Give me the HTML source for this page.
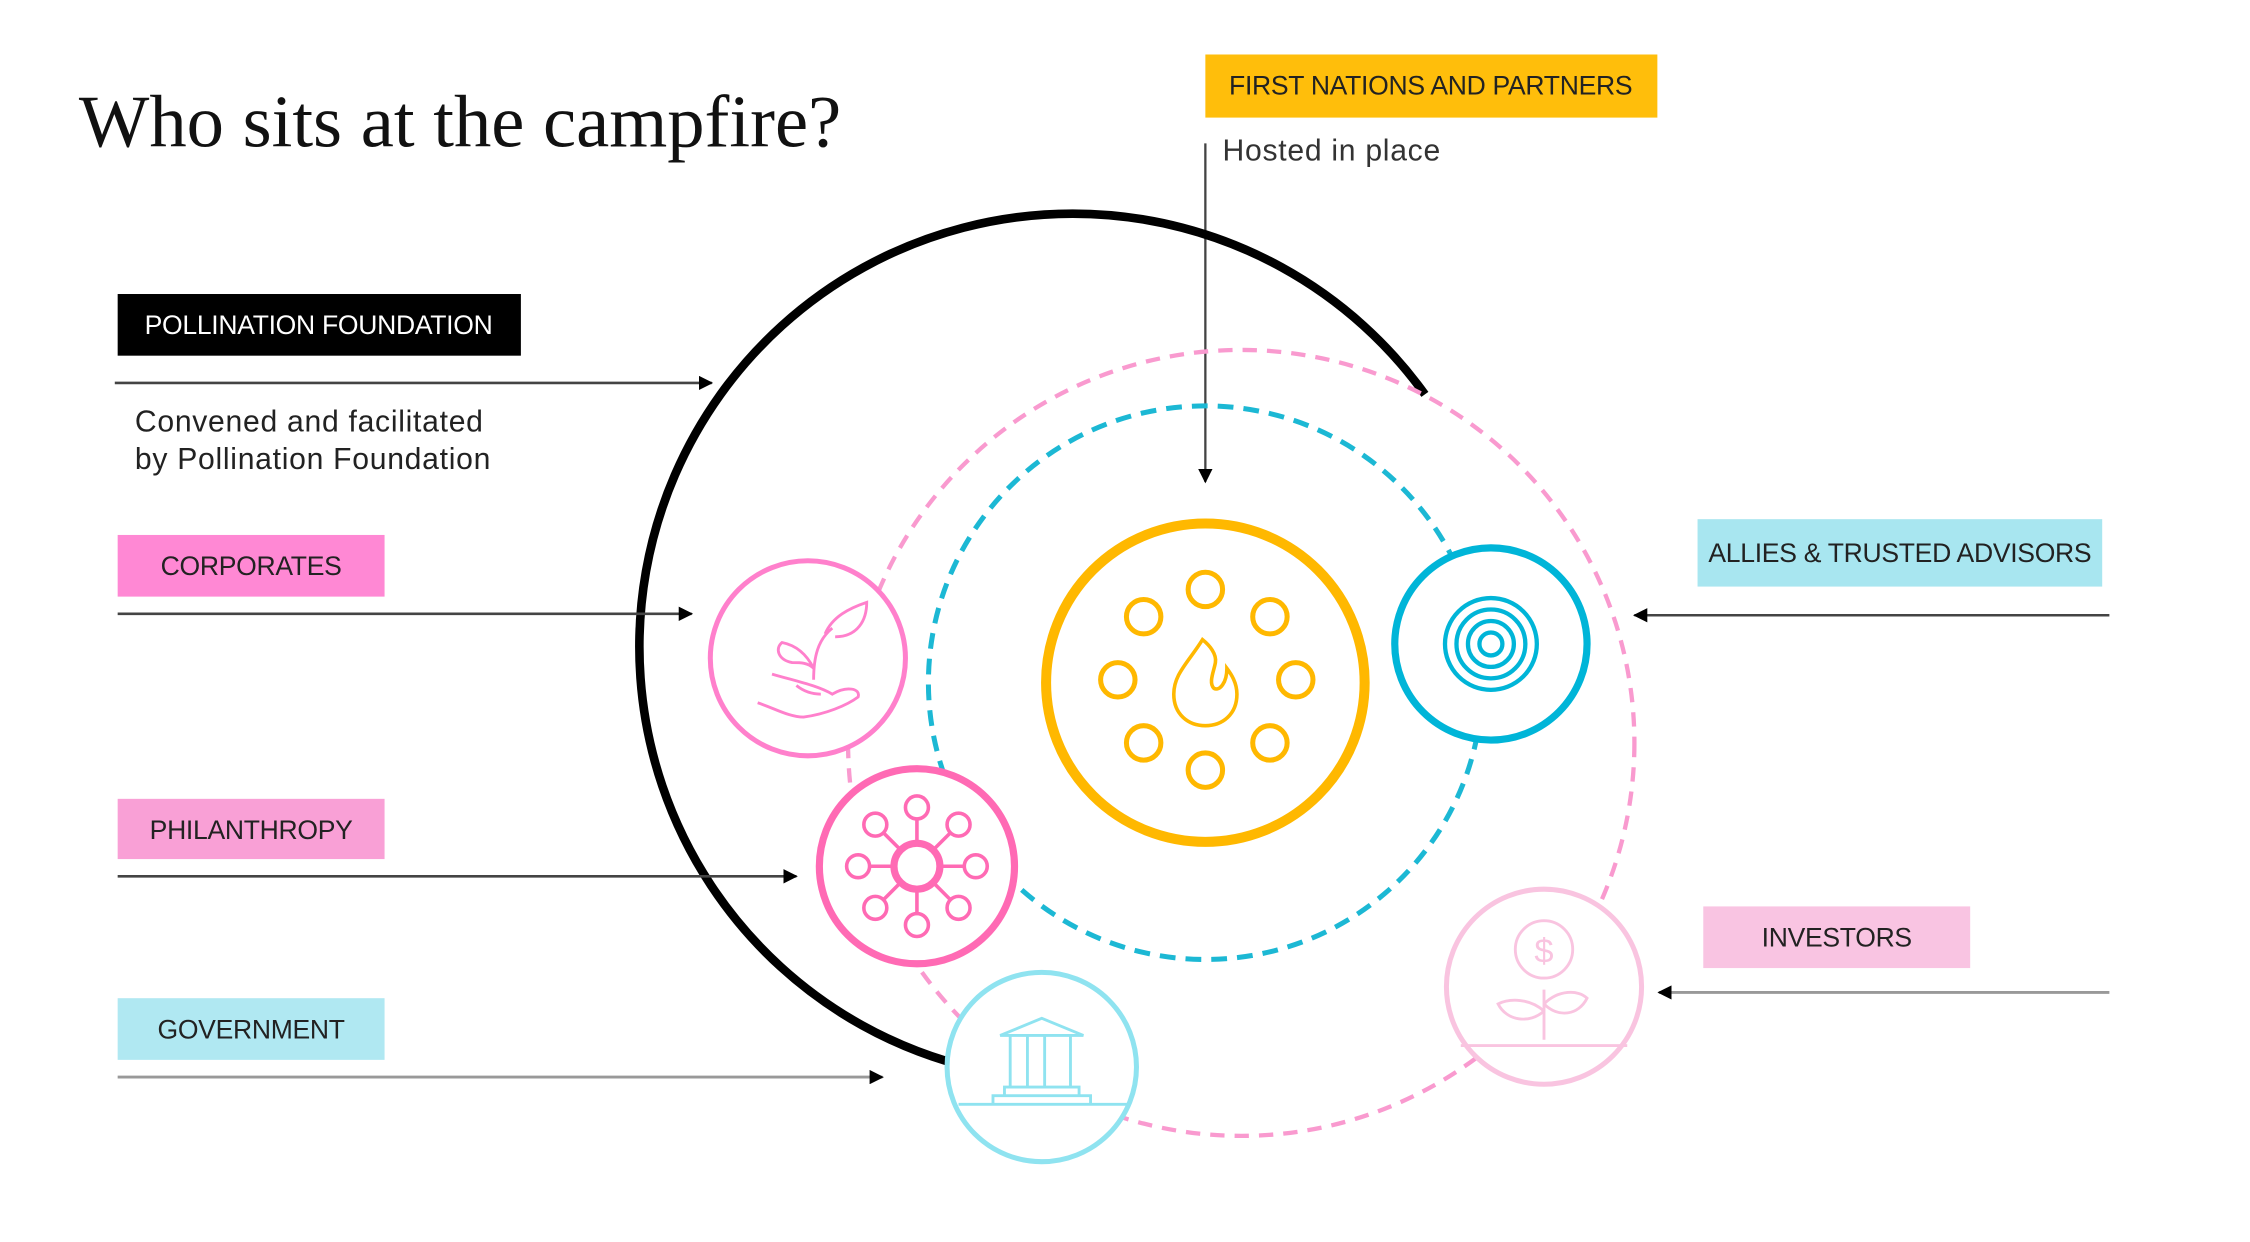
<!DOCTYPE html>
<html><head><meta charset="utf-8"><style>
html,body{margin:0;padding:0;background:#fff;}
svg{display:block;}
.lb{font-family:"Liberation Sans",sans-serif;font-size:18.5px;letter-spacing:-0.2px;}
.bd{font-family:"Liberation Sans",sans-serif;font-size:21px;letter-spacing:0.5px;}
</style></head><body>
<svg width="2250" height="1242" viewBox="0 0 1568 866" preserveAspectRatio="none" xmlns="http://www.w3.org/2000/svg">
<defs>
<marker id="ar" markerWidth="10" markerHeight="10" refX="9" refY="5" orient="auto" markerUnits="userSpaceOnUse"><path d="M0,0 L10,5 L0,10 Z" fill="#000"/></marker>
</defs>
<text x="55" y="102" font-family="Liberation Serif,serif" font-size="52" fill="#111">Who sits at the campfire?</text>

<rect x="840" y="38" width="315" height="44" fill="#FFBE0B"/>
<text x="997" y="66" text-anchor="middle" class="lb" fill="#222">FIRST NATIONS AND PARTNERS</text>
<text x="852" y="112" class="bd" fill="#333">Hosted in place</text>
<line x1="840" y1="100" x2="840" y2="336" stroke="#444" stroke-width="1.6" marker-end="url(#ar)"/>

<path d="M993,275 A302,302 0 1 0 660,740" fill="none" stroke="#000" stroke-width="6"/>
<circle cx="865" cy="518" r="274" fill="none" stroke="#F99ACF" stroke-width="3" stroke-dasharray="10,7"/>
<circle cx="840" cy="476" r="193" fill="none" stroke="#1CB8D4" stroke-width="3.5" stroke-dasharray="11,7"/>

<circle cx="840" cy="476" r="111" fill="#fff" stroke="#FFB800" stroke-width="7"/>
<g fill="none" stroke="#FFB800" stroke-width="3.5">
<circle cx="840" cy="411" r="12"/><circle cx="885" cy="430" r="12"/><circle cx="903" cy="474" r="12"/><circle cx="885" cy="518" r="12"/>
<circle cx="840" cy="537" r="12"/><circle cx="797" cy="518" r="12"/><circle cx="779" cy="474" r="12"/><circle cx="797" cy="430" r="12"/>
<path d="M838,446 C828,462 818,470 818,484 C818,498 828,506 840,506 C852,506 862,498 862,484 C862,476 858,470 855,466 C855,476 850,482 846,480 C842,476 846,468 847,462 C848,456 843,450 838,446 Z" stroke-width="2.5"/>
</g>

<circle cx="1039" cy="449" r="67" fill="#fff" stroke="#00B5D8" stroke-width="5"/>
<g fill="none" stroke="#00B5D8" stroke-width="3">
<circle cx="1039" cy="449" r="8"/><circle cx="1039" cy="449" r="16"/><circle cx="1039" cy="449" r="24"/><circle cx="1039" cy="449" r="32"/></g>

<circle cx="563" cy="459" r="68" fill="#fff" stroke="#FF80CC" stroke-width="3.5"/>
<g fill="none" stroke="#FF80CC" stroke-width="2">
<path d="M538,470 C555,475 570,478 580,484 C590,478 600,480 598,486 C590,492 575,498 560,500 C550,500 540,494 528,490"/>
<path d="M555,478 C560,482 566,484 572,484"/>
<path d="M567,474 C567,458 570,446 580,438"/>
<path d="M567,466 C562,456 555,450 545,448 C540,452 542,460 552,462 C558,462 563,462 567,466"/>
<path d="M575,442 C580,430 592,424 604,420 C604,432 598,444 582,444"/>
</g>

<circle cx="639" cy="604" r="68" fill="#fff" stroke="#FF6AB4" stroke-width="5"/>
<g fill="none" stroke="#FF6AB4" stroke-width="2.5">
<circle cx="639" cy="604" r="16" stroke-width="5"/>
<circle cx="639" cy="563" r="8"/><circle cx="668" cy="575" r="8"/><circle cx="680" cy="604" r="8"/><circle cx="668" cy="633" r="8"/>
<circle cx="639" cy="645" r="8"/><circle cx="610" cy="633" r="8"/><circle cx="598" cy="604" r="8"/><circle cx="610" cy="575" r="8"/>
<path d="M639,571 V586 M662,581 L651,592 M672,604 H657 M662,627 L651,616 M639,637 V622 M616,627 L627,616 M606,604 H621 M616,581 L627,592"/>
</g>

<circle cx="726" cy="744" r="66" fill="#fff" stroke="#8FE3F0" stroke-width="3.5"/>
<g fill="none" stroke="#8FE3F0" stroke-width="2">
<path d="M697,722 L726,710 L755,722 Z"/>
<path d="M704,722 V758 M716,722 V758 M728,722 V758 M746,722 V758"/>
<path d="M700,758 H752 V764 H700 Z M692,764 H760 V770 H692 Z M668,770 H786"/>
</g>

<circle cx="1076" cy="688" r="68" fill="#fff" stroke="#F9C4E0" stroke-width="3.5"/>
<g fill="none" stroke="#F9C4E0" stroke-width="2">
<circle cx="1076" cy="662" r="20"/>
<text x="1076" y="671" text-anchor="middle" font-family="Liberation Sans,sans-serif" font-size="24" fill="#F9C4E0" stroke="none">$</text>
<path d="M1076,725 V690 M1076,705 C1066,696 1052,696 1044,700 C1050,712 1066,714 1076,705 M1076,700 C1086,690 1100,690 1106,696 C1100,708 1086,710 1076,700"/>
<path d="M1018,729 H1134"/>
</g>

<rect x="82" y="205" width="281" height="43" fill="#000"/>
<text x="222" y="233" text-anchor="middle" class="lb" fill="#fff">POLLINATION FOUNDATION</text>
<line x1="80" y1="267" x2="496" y2="267" stroke="#444" stroke-width="1.8" marker-end="url(#ar)"/>
<text x="94" y="301" class="bd" fill="#222">Convened and facilitated</text>
<text x="94" y="327" class="bd" fill="#222">by Pollination Foundation</text>

<rect x="82" y="373" width="186" height="43" fill="#FF88D4"/>
<text x="175" y="401" text-anchor="middle" class="lb" fill="#222">CORPORATES</text>
<line x1="82" y1="428" x2="482" y2="428" stroke="#444" stroke-width="1.8" marker-end="url(#ar)"/>

<rect x="82" y="557" width="186" height="42" fill="#F9A0D6"/>
<text x="175" y="585" text-anchor="middle" class="lb" fill="#222">PHILANTHROPY</text>
<line x1="82" y1="611" x2="555" y2="611" stroke="#444" stroke-width="1.8" marker-end="url(#ar)"/>

<rect x="82" y="696" width="186" height="43" fill="#B0E8F2"/>
<text x="175" y="724" text-anchor="middle" class="lb" fill="#222">GOVERNMENT</text>
<line x1="82" y1="751" x2="615" y2="751" stroke="#999" stroke-width="2" marker-end="url(#ar)"/>

<rect x="1183" y="362" width="282" height="47" fill="#A8E6F0"/>
<text x="1324" y="392" text-anchor="middle" class="lb" fill="#222">ALLIES &amp; TRUSTED ADVISORS</text>
<line x1="1470" y1="429" x2="1139" y2="429" stroke="#444" stroke-width="1.8" marker-end="url(#ar)"/>

<rect x="1187" y="632" width="186" height="43" fill="#F9C4E2"/>
<text x="1280" y="660" text-anchor="middle" class="lb" fill="#222">INVESTORS</text>
<line x1="1470" y1="692" x2="1156" y2="692" stroke="#999" stroke-width="2" marker-end="url(#ar)"/>
</svg>
</body></html>
